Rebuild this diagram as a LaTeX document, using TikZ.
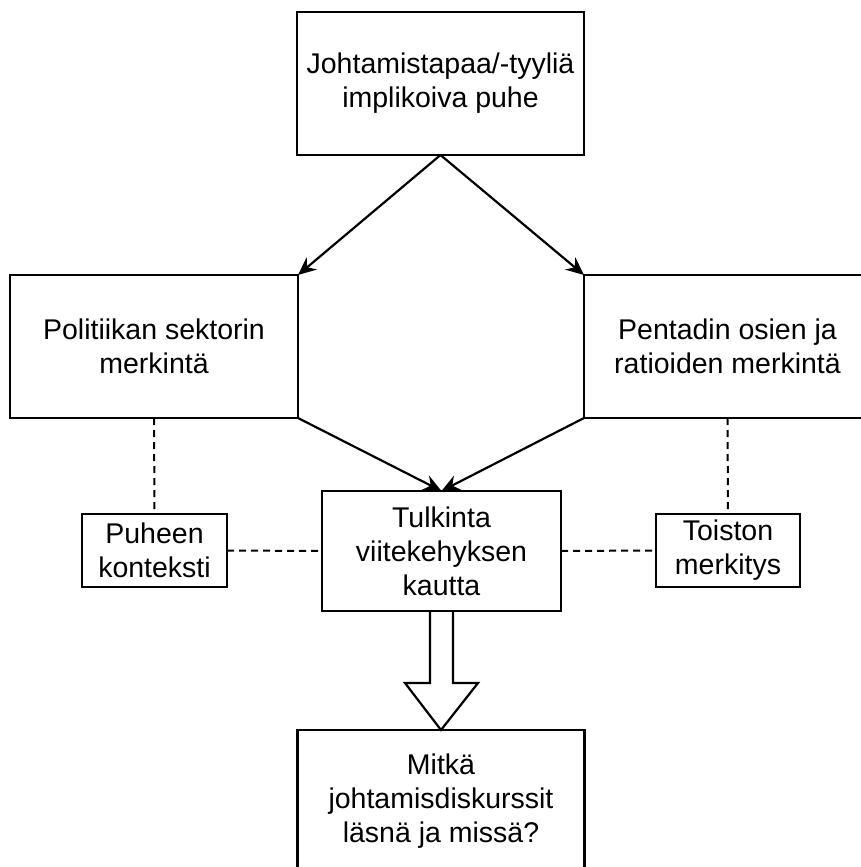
\documentclass[tikz,border=0pt]{standalone}
\usepackage{fontspec}
\setmainfont{Liberation Sans}
\usetikzlibrary{arrows.meta,calc}

\begin{document}
\begin{tikzpicture}[x=1pt,y=-1pt,line width=2.2pt,
  box/.style={draw,align=center,inner sep=2pt,outer sep=0pt,font=\fontsize{28.5}{34}\selectfont},
  bigbox/.style={box,minimum width=287pt,minimum height=143pt},
  smallbox/.style={box,minimum width=145pt,minimum height=73pt},
  arr/.style={-{Stealth[length=18pt,width=16pt,inset=6pt]}},
  link/.style={line width=2pt,dash pattern=on 7pt off 5pt}]
\useasboundingbox (0,0) rectangle (861,867);
\node[bigbox] (puhe) at (440.5,83.5) {Johtamistapaa/-tyyliä\\implikoiva puhe};
\node[bigbox,minimum width=288pt] (sektori) at (154,346.5) {Politiikan sektorin\\merkintä};
\node[bigbox] (pentadi) at (727.5,346.5) {Pentadin osien ja\\ratioiden merkintä};
\node[box,minimum width=239pt,minimum height=120pt] (tulkinta) at (441.5,551) {Tulkinta\\viitekehyksen\\kautta};
\node[smallbox] (konteksti) at (154.5,550.5) {Puheen\\konteksti};
\node[smallbox,minimum width=144pt] (toisto) at (728,550.5) {Toiston\\merkitys};
\node[bigbox] (diskurssit) at (441,801.5) {Mitkä\\johtamisdiskurssit\\läsnä ja missä?};
% nuolet
\draw[arr] (puhe.south) -- (sektori.north east);
\draw[arr] (puhe.south) -- (pentadi.north west);
\draw[arr] (sektori.south east) -- (tulkinta.north);
\draw[arr] (pentadi.south west) -- (tulkinta.north);
% katkoviivat
\draw[link] (sektori.south) -- (konteksti.north);
\draw[link] (pentadi.south) -- (toisto.north);
\draw[link] (konteksti.east) -- (tulkinta.west);
\draw[link] (tulkinta.east) -- (toisto.west);
% iso nuoli
\draw[line join=miter] ($(tulkinta.south)+(-11.5,0)$) -- ++(0,72) -- ++(-25,0)
  -- (diskurssit.north) -- ($(tulkinta.south)+(36.5,72)$) -- ++(-25,0) -- ++(0,-72);
\end{tikzpicture}
\end{document}
